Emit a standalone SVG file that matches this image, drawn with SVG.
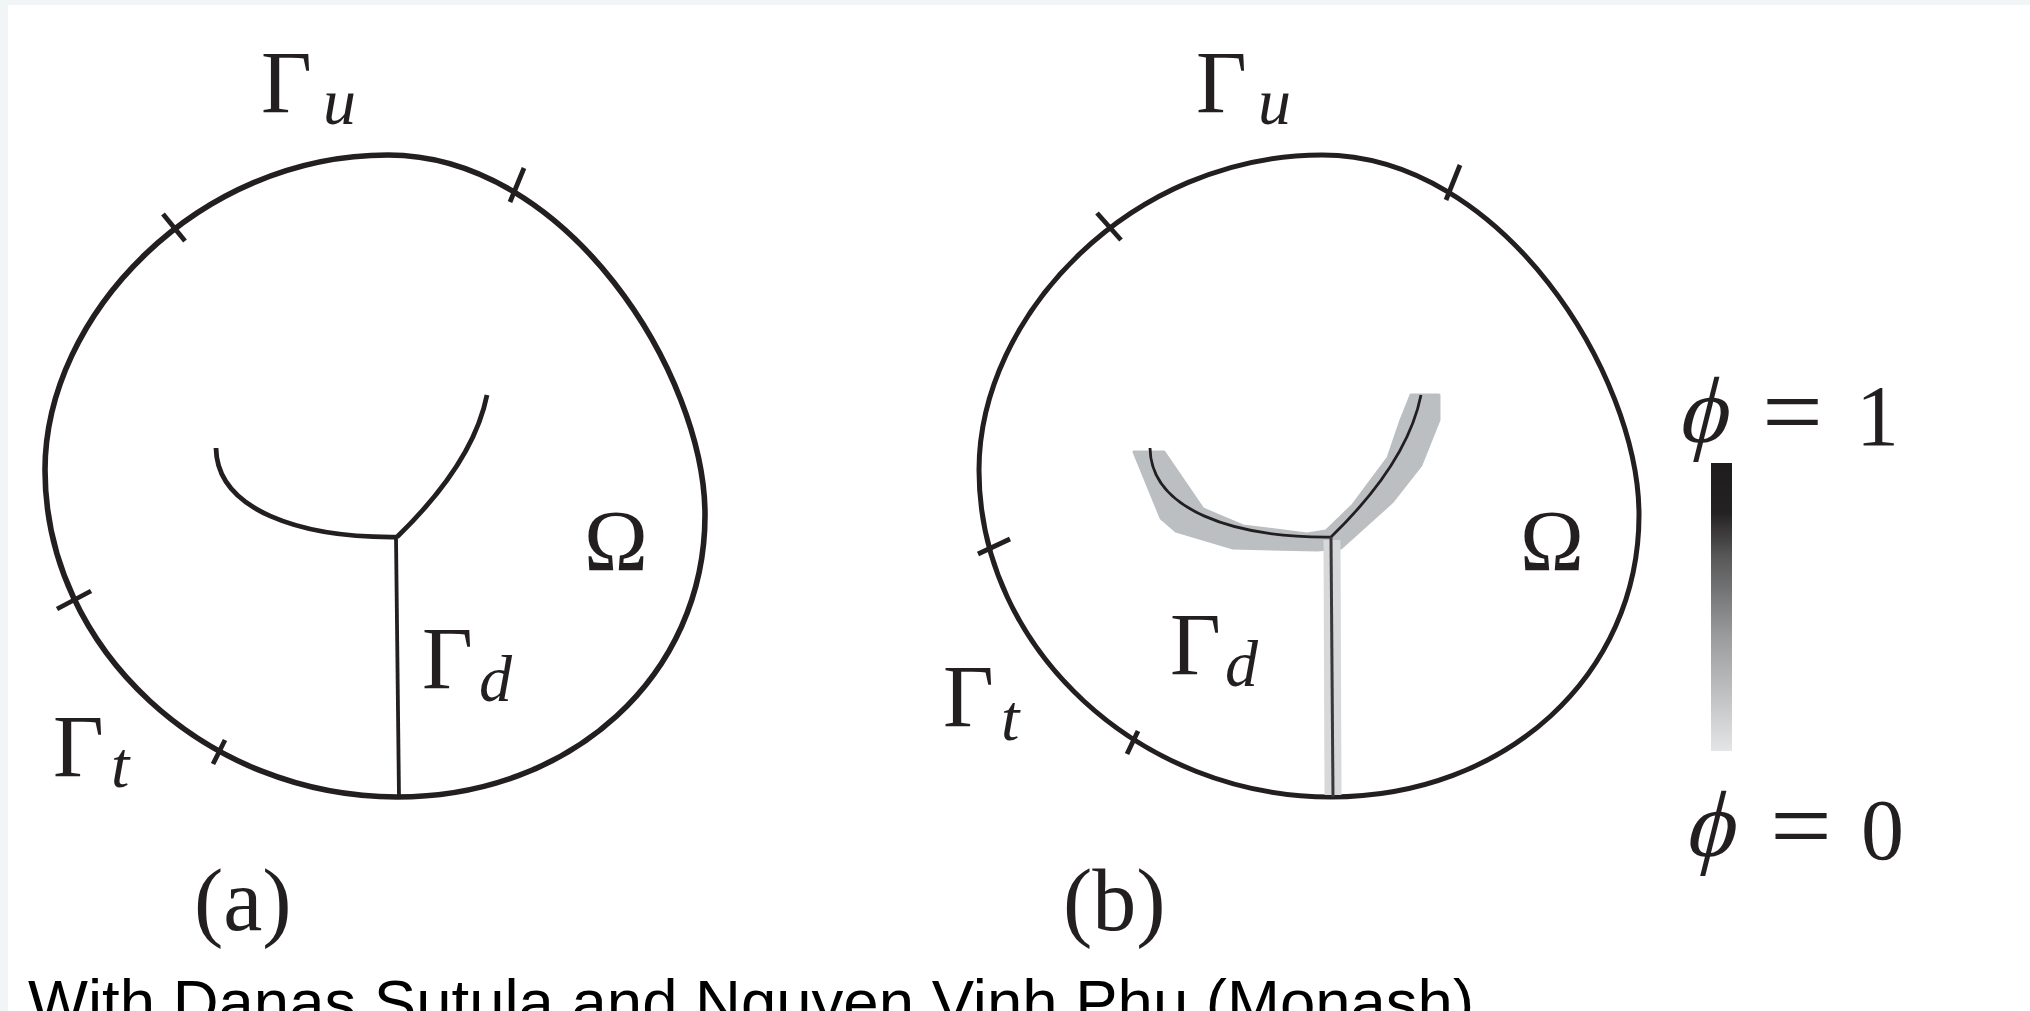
<svg xmlns="http://www.w3.org/2000/svg" xmlns:xlink="http://www.w3.org/1999/xlink" width="2030" height="1011" viewBox="0 0 2030 1011">
<style>
.outline{fill:none;stroke:#231f20;stroke-width:5.6;stroke-linejoin:round}
.tick{stroke:#231f20;stroke-width:4.8;stroke-linecap:butt}
.crackA{fill:none;stroke:#231f20;stroke-width:4.8;stroke-linecap:butt}
.crackB{fill:none;stroke:#231f20;stroke-width:2.8;stroke-linecap:butt}
.m{font-family:"Liberation Serif","Times New Roman",serif;fill:#231f20}
.it{font-style:italic}
.cap{font-family:"Liberation Sans",Arial,sans-serif;fill:#000}
</style>
<defs>
<path id="egg" d="M388,155 C568,155 705,375 705,515 C705,675 572,797 397,797 C207,797 45,650 45,470 C45,315 198,155 388,155 Z"/>
<path id="ycrack" d="M216,448 C217,510 300,538 397,537 M397,537 C430,505 475,455 487,395"/>
<linearGradient id="phigrad" x1="0" y1="0" x2="0" y2="1">
<stop offset="0" stop-color="#1f1c1d"/>
<stop offset="0.17" stop-color="#242122"/>
<stop offset="0.32" stop-color="#565657"/>
<stop offset="0.6" stop-color="#9a9b9d"/>
<stop offset="1" stop-color="#e4e5e7"/>
</linearGradient>
</defs>
<rect x="0" y="0" width="2030" height="1011" fill="#ffffff"/>
<rect x="0" y="0" width="2030" height="5" fill="#f1f5f6"/>
<rect x="0" y="0" width="8" height="1011" fill="#f1f5f6"/>

<g id="panel-a">
<use xlink:href="#egg" href="#egg" class="outline"/>
<g id="ticks-a">
<line class="tick" x1="163" y1="214" x2="185" y2="241"/>
<line class="tick" x1="524" y1="168" x2="510" y2="202"/>
<line class="tick" x1="57" y1="609" x2="91" y2="591"/>
<line class="tick" x1="225" y1="740" x2="213" y2="764"/>
</g>
<g id="crack-a">
<use xlink:href="#ycrack" href="#ycrack" class="crackA"/>
<line x1="396" y1="537" x2="399" y2="797" stroke="#231f20" stroke-width="3.8"/>
</g>
<text class="m" x="261" y="112" font-size="88">Γ</text>
<text class="m it" x="323" y="124" font-size="66">u</text>
<text class="m" x="584" y="570" font-size="86">Ω</text>
<text class="m" x="422" y="688" font-size="88">Γ</text>
<text class="m it" x="479" y="701" font-size="66">d</text>
<text class="m" x="53" y="776" font-size="88">Γ</text>
<text class="m it" x="111" y="787" font-size="66">t</text>
<text class="m" x="194" y="930" font-size="88">(a)</text>
</g>

<g id="panel-b">
<use xlink:href="#egg" href="#egg" class="outline" transform="translate(934,0)" style="stroke-width:5"/>
<g id="ticks-b">
<line class="tick" x1="1097" y1="213" x2="1121" y2="240"/>
<line class="tick" x1="1460" y1="165" x2="1446" y2="200"/>
<line class="tick" x1="978" y1="554" x2="1010" y2="539"/>
<line class="tick" x1="1138" y1="731" x2="1127" y2="754"/>
</g>
<g id="crack-b">
<polygon points="1134,452 1164,452 1203,509 1243,526 1307,534 1326,531 1353,505 1388,458 1401,420 1411,395 1439,395 1439,420 1421,465 1392,502 1341,548 1317,550 1233,548 1176,531 1161,518" fill="#bbbfc1" stroke="#bbbfc1" stroke-width="3" stroke-linejoin="round"/>
<line x1="1332" y1="540" x2="1333" y2="795" stroke="#d6d8d9" stroke-width="17"/>
<use xlink:href="#ycrack" href="#ycrack" class="crackB" transform="translate(934,0)"/>
<line x1="1331" y1="537" x2="1333" y2="797" stroke="#3a3839" stroke-width="3"/>
</g>
<text class="m" x="1196" y="112" font-size="88">Γ</text>
<text class="m it" x="1258" y="124" font-size="66">u</text>
<text class="m" x="1520" y="570" font-size="86">Ω</text>
<text class="m" x="1170" y="674" font-size="88">Γ</text>
<text class="m it" x="1225" y="686" font-size="66">d</text>
<text class="m" x="943" y="726" font-size="88">Γ</text>
<text class="m it" x="1001" y="740" font-size="66">t</text>
<text class="m" x="1063" y="930" font-size="88">(b)</text>
</g>

<g id="colorbar">
<rect x="1711" y="463" width="21" height="288" fill="url(#phigrad)"/>
<text class="m" transform="translate(1676,442) skewX(-14)" x="0" y="0" font-size="94">ϕ</text>
<text class="m" x="1762" y="447" font-size="104" textLength="61" lengthAdjust="spacingAndGlyphs">=</text>
<text class="m" x="1856" y="445" font-size="86">1</text>
<text class="m" transform="translate(1683,856) skewX(-14)" x="0" y="0" font-size="94">ϕ</text>
<text class="m" x="1770" y="861" font-size="104" textLength="62" lengthAdjust="spacingAndGlyphs">=</text>
<text class="m" x="1861" y="859" font-size="86">0</text>
</g>

<text class="cap" x="28" y="1024" font-size="63.5">With Danas Sutula and Nguyen Vinh Phu (Monash)</text>
</svg>
